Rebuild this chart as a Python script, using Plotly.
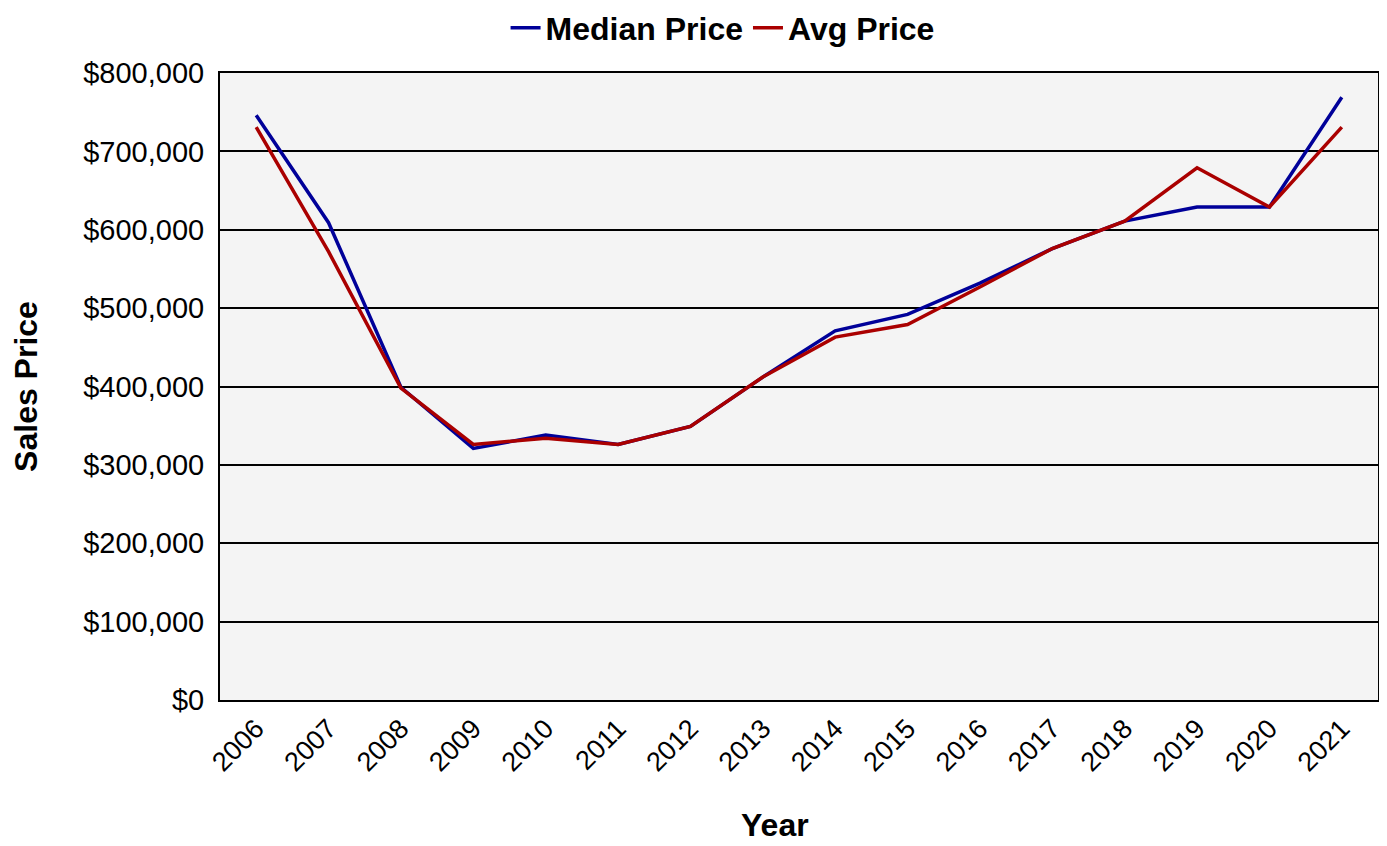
import plotly.graph_objects as go

# yearly sales prices
years = ['2006', '2007', '2008', '2009', '2010', '2011', '2012', '2013',
         '2014', '2015', '2016', '2017', '2018', '2019', '2020', '2021']
median_price = [746000, 609000, 399000, 321000, 338000, 326000, 349000, 412000,
                471000, 492000, 532000, 576000, 611000, 629000, 629000, 769000]
avg_price = [731000, 572000, 398000, 326000, 334000, 326000, 349000, 412000,
             463000, 479000, 527000, 576000, 611000, 679000, 629000, 731000]
y_ticks = [0, 100000, 200000, 300000, 400000, 500000, 600000, 700000, 800000]

font = 'Liberation Sans, Arial, sans-serif'

fig = go.Figure()
fig.add_trace(go.Scatter(x=years, y=median_price, name='Median Price', mode='lines',
                         line=dict(color='#000099', width=3.5)))
fig.add_trace(go.Scatter(x=years, y=avg_price, name='Avg Price', mode='lines',
                         line=dict(color='#aa0000', width=3.5)))

# page has an 8px body margin, so the figure is a bit smaller than the window
fig.update_layout(
    width=1379, height=838,
    margin=dict(l=212, r=9, t=65, b=146, autoexpand=False),
    paper_bgcolor='white', plot_bgcolor='#f4f4f4',
    font=dict(family=font, color='black', size=29),
    legend=dict(orientation='h', x=0.434, xanchor='center', y=1.072, yanchor='middle',
                font=dict(size=32, family=font, weight='bold'), itemwidth=30,
                tracegroupgap=0),
    showlegend=True,
)
fig.update_xaxes(
    type='category', range=[-0.5, 15.5], tickangle=-45,
    showgrid=False, showline=True, linecolor='black', linewidth=2, mirror=True,
    ticks='', tickfont=dict(size=27),
)
fig.update_yaxes(
    range=[0, 800000], tickvals=y_ticks, tickformat='$,.0f',
    showgrid=True, gridcolor='black', gridwidth=2,
    showline=True, linecolor='black', linewidth=2, mirror=True,
    zeroline=False, ticks='', tickfont=dict(size=29), ticklabelstandoff=8,
    title=dict(text='Sales Price', font=dict(size=32, weight='bold'), standoff=40),
)
# x axis title sits a little left of the plot centre
fig.add_annotation(text='<b>Year</b>', xref='paper', yref='paper', x=0.479, y=-0.2,
                   xanchor='center', yanchor='middle', showarrow=False,
                   font=dict(size=32))

fig.write_html('out.html')
